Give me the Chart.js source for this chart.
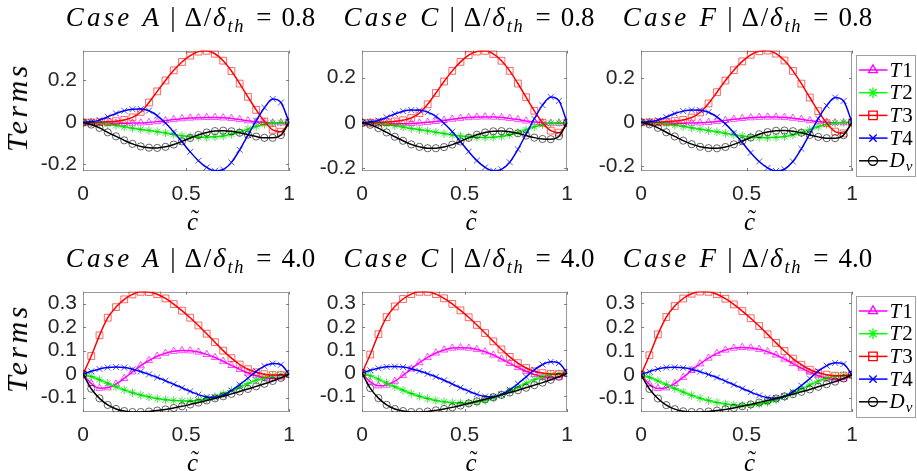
<!DOCTYPE html>
<html><head><meta charset="utf-8">
<script src="https://cdn.jsdelivr.net/npm/chart.js@4.4.1/dist/chart.umd.min.js"></script>
<style>
html,body{margin:0;padding:0;background:#fff;}
body{width:917px;height:471px;position:relative;overflow:hidden;}
canvas{position:absolute;}
.title{position:absolute;font-family:"Liberation Serif",serif;font-size:27px;line-height:27px;white-space:nowrap;transform:translateX(-50%);color:#000;}
.title .cs{font-style:italic;letter-spacing:3.2px;}
.title .bar{margin:0 9px 0 8px;}
.title .m{letter-spacing:1.8px;}
.title sub{font-size:0.68em;vertical-align:-0.3em;line-height:0;letter-spacing:1.8px;font-style:italic;}
.title .eq{margin:0 10px 0 11px;}
.ylab{position:absolute;font-family:"Liberation Serif",serif;font-style:italic;font-size:30px;line-height:30px;letter-spacing:3.5px;white-space:nowrap;transform:translate(-50%,-50%) rotate(-90deg);color:#000;}
.xlab{position:absolute;font-family:"Liberation Serif",serif;font-style:italic;font-size:25px;line-height:25px;white-space:nowrap;transform:translate(-50%,-50%);color:#000;}
.xlab .cw{position:relative;display:inline-block;}
.xlab .tl{position:absolute;left:4px;top:-3px;font-style:normal;font-size:24px;}
</style>
</head><body>
<script>
// ---------- data ----------
const xVals = [0,0.04,0.08,0.12,0.16,0.2,0.24,0.28,0.32,0.36,0.4,0.44,0.48,0.52,0.56,0.6,0.64,0.68,0.72,0.76,0.8,0.84,0.88,0.92,0.96,1];
const xTicks = [0,0.5,1];
const xTickLabels = ['0','0.5','1'];
const yTicksTop = [-0.2,0,0.2];
const yTickLabelsTop = ['-0.2','0','0.2'];
const yTicksBottom = [-0.1,0,0.1,0.2,0.3];
const yTickLabelsBottom = ['-0.1','0','0.1','0.2','0.3'];
const seriesNames = ['T1','T2','T3','T4','Dv'];
const panelCases = ['A','C','F'];
const ratioTop = '0.8';
const ratioBottom = '4.0';

const yRangeTopA = [-0.231,0.342];
const yRangeTopC = [-0.214,0.320];
const yRangeTopF = [-0.221,0.326];
const yRangeBotA = [-0.161,0.351];
const yRangeBotC = [-0.168,0.352];
const yRangeBotF = [-0.157,0.350];

// Case A, 0.8
const topA_T1 = [0,0,-0.002,-0.003,-0.004,-0.004,-0.003,-0.002,0,0.004,0.009,0.014,0.018,0.021,0.023,0.024,0.024,0.022,0.019,0.014,0.008,0.003,0,-0.002,-0.002,0];
const topA_T2 = [0,-0.001,-0.003,-0.008,-0.014,-0.021,-0.027,-0.033,-0.038,-0.044,-0.05,-0.057,-0.063,-0.067,-0.07,-0.07,-0.068,-0.064,-0.056,-0.045,-0.032,-0.019,-0.008,-0.002,0,0];
const topA_T3 = [0,0,0.001,0.003,0.006,0.012,0.024,0.05,0.095,0.148,0.2,0.248,0.288,0.318,0.337,0.341,0.327,0.294,0.245,0.185,0.122,0.06,0.005,-0.035,-0.044,0];
const topA_T4 = [0,0.003,0.011,0.027,0.043,0.056,0.063,0.064,0.056,0.033,-0.003,-0.045,-0.092,-0.14,-0.182,-0.214,-0.23,-0.224,-0.19,-0.13,-0.06,0.008,0.07,0.112,0.095,0];
const topA_Dv = [0,-0.01,-0.026,-0.047,-0.066,-0.085,-0.102,-0.114,-0.12,-0.121,-0.116,-0.105,-0.09,-0.074,-0.059,-0.048,-0.041,-0.039,-0.042,-0.049,-0.058,-0.067,-0.073,-0.073,-0.06,0];
// Case C, 0.8
const topC_T1 = [0,0,-0.001,-0.003,-0.004,-0.004,-0.003,-0.001,0.002,0.006,0.011,0.016,0.02,0.023,0.025,0.026,0.025,0.023,0.019,0.014,0.008,0.003,0,-0.002,-0.002,0];
const topC_T2 = [0,-0.001,-0.003,-0.007,-0.013,-0.019,-0.025,-0.031,-0.036,-0.042,-0.048,-0.054,-0.059,-0.063,-0.065,-0.065,-0.064,-0.06,-0.053,-0.043,-0.031,-0.018,-0.008,-0.002,0,0];
const topC_T3 = [0,0,0.001,0.003,0.006,0.011,0.021,0.043,0.082,0.132,0.183,0.23,0.27,0.3,0.316,0.319,0.305,0.275,0.23,0.174,0.113,0.053,0,-0.035,-0.044,0];
const topC_T4 = [0,0.003,0.01,0.024,0.039,0.051,0.056,0.055,0.047,0.028,-0.002,-0.04,-0.084,-0.128,-0.168,-0.198,-0.213,-0.207,-0.175,-0.118,-0.05,0.018,0.078,0.114,0.097,0];
const topC_Dv = [0,-0.009,-0.024,-0.043,-0.062,-0.08,-0.096,-0.107,-0.113,-0.113,-0.108,-0.097,-0.083,-0.067,-0.053,-0.043,-0.038,-0.037,-0.04,-0.047,-0.057,-0.066,-0.072,-0.073,-0.06,0];
// Case F, 0.8
const topF_T1 = [0,0,-0.002,-0.003,-0.004,-0.004,-0.003,-0.002,0,0.004,0.009,0.014,0.018,0.021,0.023,0.024,0.024,0.022,0.019,0.014,0.008,0.003,0,-0.002,-0.002,0];
const topF_T2 = [0,-0.001,-0.003,-0.008,-0.013,-0.019,-0.025,-0.031,-0.037,-0.043,-0.05,-0.056,-0.062,-0.066,-0.069,-0.07,-0.068,-0.064,-0.057,-0.046,-0.033,-0.02,-0.009,-0.003,0,0];
const topF_T3 = [0,0,0.001,0.003,0.006,0.011,0.022,0.045,0.086,0.137,0.19,0.237,0.277,0.307,0.323,0.326,0.312,0.281,0.234,0.176,0.113,0.051,-0.004,-0.042,-0.05,0];
const topF_T4 = [0,0.003,0.01,0.024,0.04,0.051,0.056,0.055,0.046,0.025,-0.007,-0.047,-0.092,-0.138,-0.178,-0.207,-0.221,-0.213,-0.178,-0.12,-0.052,0.017,0.076,0.113,0.097,0];
const topF_Dv = [0,-0.009,-0.025,-0.045,-0.064,-0.083,-0.099,-0.111,-0.117,-0.118,-0.112,-0.1,-0.085,-0.069,-0.054,-0.044,-0.038,-0.037,-0.04,-0.047,-0.057,-0.066,-0.072,-0.072,-0.058,0];
// Case A, 4.0
const botA_T1 = [0,-0.04,-0.06,-0.058,-0.042,-0.018,0.01,0.036,0.058,0.076,0.089,0.097,0.1,0.099,0.094,0.084,0.071,0.055,0.037,0.02,0.005,-0.007,-0.015,-0.019,-0.015,0];
const botA_T2 = [0,-0.01,-0.024,-0.039,-0.054,-0.067,-0.079,-0.089,-0.097,-0.104,-0.109,-0.112,-0.114,-0.114,-0.111,-0.105,-0.096,-0.084,-0.07,-0.055,-0.04,-0.026,-0.015,-0.007,-0.003,0];
const botA_T3 = [0,0.077,0.165,0.24,0.285,0.318,0.339,0.35,0.349,0.34,0.322,0.298,0.27,0.24,0.207,0.172,0.136,0.1,0.068,0.041,0.021,0.008,0,-0.004,-0.004,0];
const botA_T4 = [0,0.012,0.022,0.028,0.03,0.028,0.021,0.011,-0.001,-0.014,-0.028,-0.043,-0.058,-0.073,-0.087,-0.097,-0.099,-0.09,-0.07,-0.045,-0.017,0.012,0.034,0.045,0.04,0];
const botA_Dv = [0,-0.062,-0.103,-0.131,-0.148,-0.157,-0.161,-0.161,-0.159,-0.155,-0.15,-0.144,-0.137,-0.129,-0.121,-0.112,-0.103,-0.094,-0.084,-0.074,-0.063,-0.052,-0.041,-0.029,-0.016,0];
// Case C, 4.0
const botC_T1 = [0,-0.038,-0.055,-0.052,-0.035,-0.01,0.018,0.045,0.068,0.087,0.1,0.108,0.11,0.108,0.102,0.092,0.078,0.061,0.042,0.024,0.008,-0.006,-0.016,-0.021,-0.017,0];
const botC_T2 = [0,-0.011,-0.026,-0.043,-0.059,-0.074,-0.088,-0.1,-0.11,-0.118,-0.124,-0.128,-0.13,-0.129,-0.125,-0.118,-0.107,-0.094,-0.078,-0.061,-0.044,-0.028,-0.016,-0.007,-0.003,0];
const botC_T3 = [0,0.08,0.168,0.242,0.288,0.32,0.341,0.351,0.351,0.341,0.323,0.299,0.271,0.241,0.208,0.173,0.137,0.102,0.07,0.043,0.022,0.008,0,-0.004,-0.004,0];
const botC_T4 = [0,0.012,0.021,0.027,0.028,0.026,0.019,0.009,-0.003,-0.016,-0.031,-0.047,-0.063,-0.078,-0.092,-0.101,-0.102,-0.092,-0.072,-0.046,-0.016,0.014,0.037,0.049,0.043,0];
const botC_Dv = [0,-0.065,-0.108,-0.137,-0.155,-0.164,-0.168,-0.168,-0.166,-0.161,-0.155,-0.148,-0.14,-0.131,-0.122,-0.113,-0.104,-0.094,-0.084,-0.074,-0.063,-0.052,-0.041,-0.029,-0.016,0];
// Case F, 4.0
const botF_T1 = [0,-0.04,-0.058,-0.055,-0.037,-0.011,0.018,0.046,0.07,0.09,0.104,0.112,0.115,0.113,0.107,0.097,0.083,0.066,0.047,0.028,0.011,-0.004,-0.015,-0.021,-0.018,0];
const botF_T2 = [0,-0.011,-0.026,-0.042,-0.058,-0.073,-0.087,-0.099,-0.109,-0.117,-0.123,-0.127,-0.129,-0.128,-0.124,-0.117,-0.106,-0.093,-0.077,-0.06,-0.043,-0.027,-0.015,-0.007,-0.003,0];
const botF_T3 = [0,0.082,0.17,0.243,0.289,0.321,0.341,0.35,0.349,0.339,0.32,0.296,0.268,0.238,0.205,0.17,0.134,0.1,0.068,0.042,0.021,0.008,0,-0.004,-0.004,0];
const botF_T4 = [0,0.013,0.024,0.03,0.031,0.029,0.023,0.013,0.001,-0.012,-0.027,-0.042,-0.058,-0.073,-0.087,-0.097,-0.099,-0.091,-0.072,-0.046,-0.016,0.015,0.038,0.05,0.045,0];
const botF_Dv = [0,-0.06,-0.1,-0.128,-0.145,-0.154,-0.157,-0.157,-0.155,-0.151,-0.146,-0.14,-0.133,-0.125,-0.117,-0.109,-0.1,-0.091,-0.082,-0.072,-0.062,-0.051,-0.04,-0.029,-0.016,0];

// ---------- styles ----------
const lineColors = ['#ff00ff','#00ff00','#ff0000','#0000ff','#000000'];
const markerColors = ['rgba(255,0,255,0.7)','rgba(0,210,0,0.7)','rgba(255,0,0,0.6)','rgba(0,0,255,0.7)','rgba(0,0,0,0.6)'];
const markerStyles = ['triangle','star','rect','crossRot','circle'];
const markerRadius = [4.2,4.3,4.8,4.2,3.6];

const cols = [{l:83,w:213},{l:362,w:212},{l:641,w:211}];
const rows = [{t:42,h:129},{t:283,h:129}];

const panels = [
  {row:0,col:0,series:[topA_T1,topA_T2,topA_T3,topA_T4,topA_Dv],range:yRangeTopA},
  {row:0,col:1,series:[topC_T1,topC_T2,topC_T3,topC_T4,topC_Dv],range:yRangeTopC},
  {row:0,col:2,series:[topF_T1,topF_T2,topF_T3,topF_T4,topF_Dv],range:yRangeTopF},
  {row:1,col:0,series:[botA_T1,botA_T2,botA_T3,botA_T4,botA_Dv],range:yRangeBotA},
  {row:1,col:1,series:[botC_T1,botC_T2,botC_T3,botC_T4,botC_Dv],range:yRangeBotC},
  {row:1,col:2,series:[botF_T1,botF_T2,botF_T3,botF_T4,botF_Dv],range:yRangeBotF}
];

const boxPlugin = {
  id:'mbox',
  beforeDatasetsDraw(chart){
    const ctx = chart.ctx, a = chart.chartArea;
    const xs = chart.scales.x, ys = chart.scales.y;
    ctx.save();
    ctx.strokeStyle = '#9a9a9a';
    ctx.lineWidth = 1;
    ctx.strokeRect(Math.round(a.left)+0.5, Math.round(a.top)+0.5, Math.round(a.right-a.left)-1, Math.round(a.bottom-a.top)-1);
    ctx.strokeStyle = '#7a7a7a';
    ctx.beginPath();
    ys.ticks.forEach(t=>{
      const y = Math.round(ys.getPixelForValue(t.value))+0.5;
      ctx.moveTo(a.left, y); ctx.lineTo(a.left+3, y);
      ctx.moveTo(a.right, y); ctx.lineTo(a.right-3, y);
    });
    xs.ticks.forEach(t=>{
      const x = Math.round(xs.getPixelForValue(t.value))+0.5;
      ctx.moveTo(x, a.bottom); ctx.lineTo(x, a.bottom-3);
      ctx.moveTo(x, a.top); ctx.lineTo(x, a.top+3);
    });
    ctx.stroke();
    ctx.restore();
  }
};

const legendPlugin = {
  id:'mlegend',
  afterDraw(chart, args, opts){
    if(!opts.show) return;
    const ctx = chart.ctx, a = chart.chartArea;
    const bx = Math.round(a.right)+4.5, by = Math.round(a.top)+4.5, bw = 59, bh = 121;
    ctx.save();
    ctx.fillStyle = '#fff'; ctx.fillRect(bx,by,bw,bh);
    ctx.strokeStyle = '#a0a0a0'; ctx.lineWidth = 1; ctx.strokeRect(bx,by,bw,bh);
    chart.data.datasets.forEach((ds,i)=>{
      const y = by + 14.5 + i*22.7;
      ctx.strokeStyle = ds.borderColor; ctx.lineWidth = 1.5;
      ctx.beginPath(); ctx.moveTo(bx+2.5,y); ctx.lineTo(bx+31,y); ctx.stroke();
      ctx.fillStyle = 'rgba(0,0,0,0)';
      ctx.strokeStyle = ds.borderColor; ctx.lineWidth = 1.3;
      const r = ds.pointStyle==='rect' ? 6 : (ds.pointStyle==='circle' ? 4.5 : 5.2);
      Chart.helpers.drawPoint(ctx,{pointStyle:ds.pointStyle,radius:r,borderWidth:1.3,rotation:0},bx+16.5,y);
      ctx.fillStyle = '#000';
      ctx.textBaseline = 'middle';
      ctx.textAlign = 'left';
      const name = ds.label;
      let tx = bx+33;
      ctx.font = 'italic 21px "Liberation Serif"';
      const first = name.charAt(0);
      ctx.fillText(first, tx, y+1);
      tx += ctx.measureText(first).width + 1;
      if (name === 'Dv') {
        ctx.font = 'italic 15px "Liberation Serif"';
        ctx.fillText('v', tx, y+6);
      } else {
        ctx.font = '21px "Liberation Serif"';
        ctx.fillText(name.slice(1), tx, y+1);
      }
    });
    ctx.restore();
  }
};

function addDiv(cls, html, left, top){
  const d = document.createElement('div');
  d.className = cls; d.innerHTML = html;
  d.style.left = left+'px'; d.style.top = top+'px';
  document.body.appendChild(d);
}

panels.forEach(p=>{
  const c = cols[p.col], r = rows[p.row];
  const padR = p.col===2 ? 66 : 10;
  const padT = 10, yW = 60, xH = 40;
  const cv = document.createElement('canvas');
  const W = c.w + yW + padR, H = r.h + padT + xH;
  cv.width = W; cv.height = H;
  cv.style.left = (c.l - yW)+'px'; cv.style.top = (r.t - padT)+'px';
  cv.style.width = W+'px'; cv.style.height = H+'px';
  document.body.appendChild(cv);
  const yTicks = p.row===0 ? yTicksTop : yTicksBottom;
  const yLabels = p.row===0 ? yTickLabelsTop : yTickLabelsBottom;
  const datasets = seriesNames.map((n,i)=>({
    label:n,
    data: xVals.map((x,j)=>({x:x,y:p.series[i][j]})),
    borderColor: lineColors[i],
    backgroundColor: lineColors[i],
    borderWidth: 1.5,
    pointStyle: markerStyles[i],
    pointRadius: markerRadius[i],
    pointBorderWidth: 1,
    pointBorderColor: markerColors[i],
    pointBackgroundColor: 'rgba(0,0,0,0)',
    cubicInterpolationMode: 'monotone',
    order: 5-i,
    fill:false
  }));
  new Chart(cv,{
    type:'line',
    data:{datasets},
    plugins:[boxPlugin,legendPlugin],
    options:{
      responsive:false, animation:false, devicePixelRatio:1,
      layout:{padding:{top:padT,right:padR,left:0,bottom:0}},
      plugins:{legend:{display:false},tooltip:{enabled:false},title:{display:false},mlegend:{show:p.col===2}},
      scales:{
        x:{type:'linear',min:0,max:1,
          grid:{display:false,drawTicks:false},border:{display:false},
          afterBuildTicks:s=>{s.ticks = xTicks.map(v=>({value:v}));},
          afterFit:s=>{s.height = xH;},
          ticks:{padding:11,color:'#262626',font:{family:'"Liberation Sans"',size:21},
            maxRotation:0,autoSkip:false,
            callback:(v)=>{const k=xTicks.findIndex(t=>Math.abs(t-v)<1e-9);return k>=0?xTickLabels[k]:'';}}
        },
        y:{type:'linear',min:p.range[0],max:p.range[1],
          grid:{display:false,drawTicks:false},border:{display:false},
          afterBuildTicks:s=>{s.ticks = yTicks.map(v=>({value:v}));},
          afterFit:s=>{s.width = yW;},
          ticks:{padding:6,color:'#262626',font:{family:'"Liberation Sans"',size:21},autoSkip:false,
            callback:(v)=>{const k=yTicks.findIndex(t=>Math.abs(t-v)<1e-9);return k>=0?yLabels[k]:'';}}
        }
      }
    }
  });
  const cx = c.l + c.w/2;
  const ratio = p.row===0 ? ratioTop : ratioBottom;
  addDiv('title','<span class="cs">Case&nbsp;'+panelCases[p.col]+'</span><span class="bar">|</span><span class="m">&Delta;/<i>&delta;</i></span><sub>th</sub><span class="eq">=</span>'+ratio, cx + 1, r.t - 38);
  addDiv('xlab','<span class="cw">c<span class="tl">&#732;</span></span>', cx + 3, r.t + r.h + 50);
  if (p.col===0) addDiv('ylab','Terms', 17, r.t + r.h/2);
});
</script>
</body></html>
